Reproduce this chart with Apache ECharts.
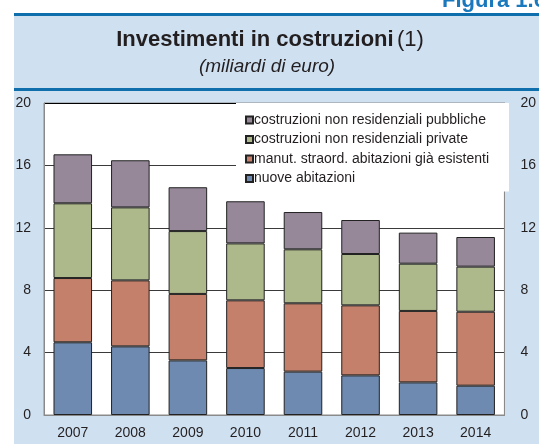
<!DOCTYPE html>
<html>
<head>
<meta charset="utf-8">
<script src="https://cdn.jsdelivr.net/npm/echarts@6/dist/echarts.min.js"></script>
<style>
html,body{margin:0;padding:0;background:#fff;}
#c{width:539px;height:444px;}
</style>
</head>
<body>
<div id="c"></div>
<script>
const categories = ['2007','2008','2009','2010','2011','2012','2013','2014'];
const nuoveAbitazioni = [4.66, 4.40, 3.50, 3.01, 2.78, 2.54, 2.09, 1.88];
const manutenzione = [4.12, 4.23, 4.26, 4.34, 4.38, 4.49, 4.58, 4.74];
const nonResPrivate = [4.79, 4.68, 4.03, 3.65, 3.46, 3.29, 3.03, 2.89];
const nonResPubbliche = [3.14, 3.02, 2.81, 2.70, 2.39, 2.18, 1.99, 1.90];
const seriesNames = [
  'nuove abitazioni',
  'manut. straord. abitazioni già esistenti',
  'costruzioni non residenziali private',
  'costruzioni non residenziali pubbliche'
];
const yTicks = [0, 4, 8, 12, 16, 20];

const FONT = '"Liberation Sans", Arial, sans-serif';
const colors = ['#6e8ab0', '#c4806a', '#adb88b', '#968799'];
const values = [nuoveAbitazioni, manutenzione, nonResPrivate, nonResPubbliche];

const chart = echarts.init(document.getElementById('c'), null, {renderer: 'canvas'});

const yAxisBase = {
  type: 'value',
  min: yTicks[0],
  max: yTicks[yTicks.length - 1],
  interval: yTicks[1] - yTicks[0],
  axisLine: {show: true, lineStyle: {color: '#8a8a8a', width: 1}},
  axisTick: {show: false},
  axisLabel: {fontFamily: FONT, fontSize: 14, color: '#231f20', margin: 13},
};

chart.setOption({
  animation: false,
  backgroundColor: '#ffffff',
  textStyle: {fontFamily: FONT},
  graphic: [
    {type: 'rect', z: -10, silent: true, shape: {x: 14, y: 16, width: 525, height: 428}, style: {fill: '#cfe0f1'}},
    {type: 'rect', z: -9, silent: true, shape: {x: 14, y: 13, width: 525, height: 3}, style: {fill: '#0f6fad'}},
    {type: 'rect', z: -9, silent: true, shape: {x: 14, y: 88, width: 525, height: 3}, style: {fill: '#0f6fad'}},
    {type: 'text', silent: true, left: 442, top: -10, style: {text: 'Figura 1.6', font: 'bold 22px ' + FONT, fill: '#1a78bd'}},
    {type: 'text', silent: true, x: 270, y: 40, style: {
      text: '{b|Investimenti in costruzioni} {n|(1)}',
      align: 'center', verticalAlign: 'middle',
      rich: {
        b: {font: 'bold 22px ' + FONT, fill: '#231f20'},
        n: {font: '22px ' + FONT, fill: '#231f20'}
      }
    }},
    {type: 'text', silent: true, x: 267, y: 67, style: {
      text: '(miliardi di euro)', align: 'center', verticalAlign: 'middle',
      font: 'italic 19px ' + FONT, fill: '#231f20'
    }}
  ],
  grid: {left: 44, right: 26, top: 103, bottom: 29, show: true, backgroundColor: '#ffffff', borderColor: '#8a8a8a', borderWidth: 1},
  legend: {
    orient: 'vertical',
    left: 236, top: 103,
    backgroundColor: '#ffffff',
    padding: [10, 20, 6, 9],
    itemWidth: 7, itemHeight: 7,
    itemGap: 5.5,
    icon: 'rect',
    data: seriesNames.slice().reverse(),
    textStyle: {fontFamily: FONT, fontSize: 14, color: '#231f20', padding: [0, 0, 0, -4], lineHeight: 14},
    selectedMode: false
  },
  xAxis: {
    type: 'category',
    data: categories,
    axisLine: {show: true, lineStyle: {color: '#8a8a8a', width: 1}},
    axisTick: {show: false},
    axisLabel: {fontFamily: FONT, fontSize: 14, color: '#231f20', margin: 11}
  },
  yAxis: [
    Object.assign({}, yAxisBase, {
      position: 'left',
      splitLine: {show: true, lineStyle: {color: ['#8a8a8a', '#3a3a3a', '#3a3a3a', '#3a3a3a', '#3a3a3a', '#000000'], width: 1}}
    }),
    Object.assign({}, yAxisBase, {
      position: 'right',
      axisLabel: {fontFamily: FONT, fontSize: 14, color: '#231f20', margin: 16},
      splitLine: {show: false}
    })
  ],
  series: values.map((v, i) => ({
    name: seriesNames[i],
    type: 'bar',
    stack: 'total',
    data: v,
    barCategoryGap: '33%',
    itemStyle: {color: colors[i], borderColor: '#222222', borderWidth: 1}
  }))
});
</script>
</body>
</html>
